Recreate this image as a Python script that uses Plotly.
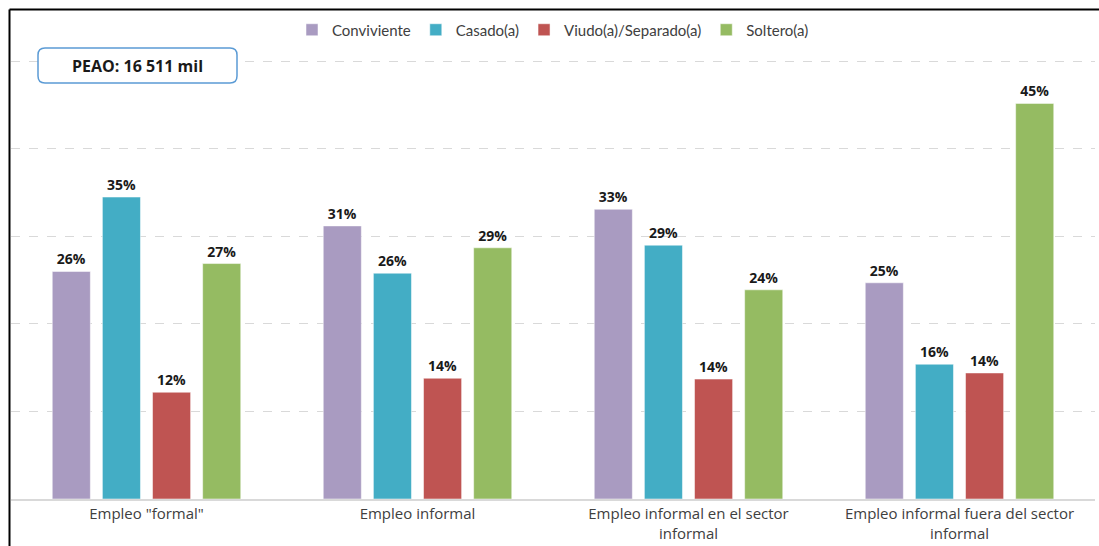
import plotly.graph_objects as go

categorias = ['Empleo "formal"', 'Empleo informal',
              'Empleo informal en el sector<br>informal',
              'Empleo informal fuera del sector<br>informal']
series = ['Conviviente', 'Casado(a)', 'Viudo(a)/Separado(a)', 'Soltero(a)']

conviviente = [26.0, 31.2, 33.1, 24.7]
casado = [34.5, 25.8, 29.0, 15.4]
viudo = [12.2, 13.8, 13.7, 14.4]
soltero = [26.9, 28.7, 23.9, 45.2]

etiquetas_conviviente = ['26%', '31%', '33%', '25%']
etiquetas_casado = ['35%', '26%', '29%', '16%']
etiquetas_viudo = ['12%', '14%', '14%', '14%']
etiquetas_soltero = ['27%', '29%', '24%', '45%']

colores = ['#a99bc1', '#43adc5', '#bf5452', '#95bb62']

# geometria del lienzo (pixeles)
W, H = 1099, 546
ML, MR, MT, MB = 11, 4, 57, 47
pw, ph = W - ML - MR, H - MT - MB


def px(x):
    return (x - ML) / pw


def py(y):
    return (H - MB - y) / ph


fig = go.Figure()
valores = [conviviente, casado, viudo, soltero]
etiquetas = [etiquetas_conviviente, etiquetas_casado, etiquetas_viudo, etiquetas_soltero]
for nombre, vals, txt, color in zip(series, valores, etiquetas, colores):
    fig.add_trace(go.Bar(
        x=categorias, y=vals, name=nombre,
        marker=dict(color=color, line=dict(color='rgba(255,255,255,0.5)', width=1)),
        text=txt, textposition='outside', cliponaxis=False,
        textfont=dict(family='Open Sans', size=14, color='#1a1a1a', weight='bold'),
    ))

# caja redondeada PEAO
x0, x1, y0, y1, r = px(38), px(237), py(48), py(83), 7
rx, ry = r / pw, r / ph
path = (f'M {x0+rx},{y0} L {x1-rx},{y0} Q {x1},{y0} {x1},{y0-ry} '
        f'L {x1},{y1+ry} Q {x1},{y1} {x1-rx},{y1} '
        f'L {x0+rx},{y1} Q {x0},{y1} {x0},{y1+ry} '
        f'L {x0},{y0-ry} Q {x0},{y0} {x0+rx},{y0} Z')

fig.update_layout(
    width=W, height=H,
    margin=dict(l=ML, r=MR, t=MT, b=MB),
    paper_bgcolor='white', plot_bgcolor='white',
    barmode='group', bargap=0.26, bargroupgap=0.24,
    font=dict(family='Open Sans', size=14, color='#404040'),
    showlegend=True,
    legend=dict(orientation='h', x=0.5, xanchor='center', y=py(30), yanchor='middle',
                font=dict(family='Lato', size=15, color='#404040'),
                itemwidth=30, traceorder='normal'),
    xaxis=dict(showline=True, linecolor='#d9d9d9', linewidth=2, ticks='',
               tickfont=dict(family='Open Sans', size=15, color='#404040')),
    yaxis=dict(range=[0, 50.5], tickvals=[10, 20, 30, 40, 50], showticklabels=False,
               showgrid=True, gridcolor='#d9d9d9', griddash='dash', gridwidth=1,
               zeroline=False),
    shapes=[
        dict(type='path', xref='paper', yref='paper', path=path,
             fillcolor='white', line=dict(color='#5b9bd5', width=1.5), layer='above'),
        dict(type='line', xref='paper', yref='paper', x0=px(9.5), x1=px(W), y0=py(9.5), y1=py(9.5),
             line=dict(color='black', width=2)),
        dict(type='line', xref='paper', yref='paper', x0=px(9.5), x1=px(9.5), y0=py(9.5), y1=py(H),
             line=dict(color='black', width=2)),
    ],
    annotations=[
        dict(text='<b>PEAO: 16 511 mil</b>', xref='paper', yref='paper',
             x=px(137.5), y=py(65.5), xanchor='center', yanchor='middle', showarrow=False,
             font=dict(family='Open Sans', size=16, color='#1a1a1a')),
    ],
)

fig.write_html("out.html", config={'displayModeBar': False},
               post_script="document.body.style.margin='0';")
